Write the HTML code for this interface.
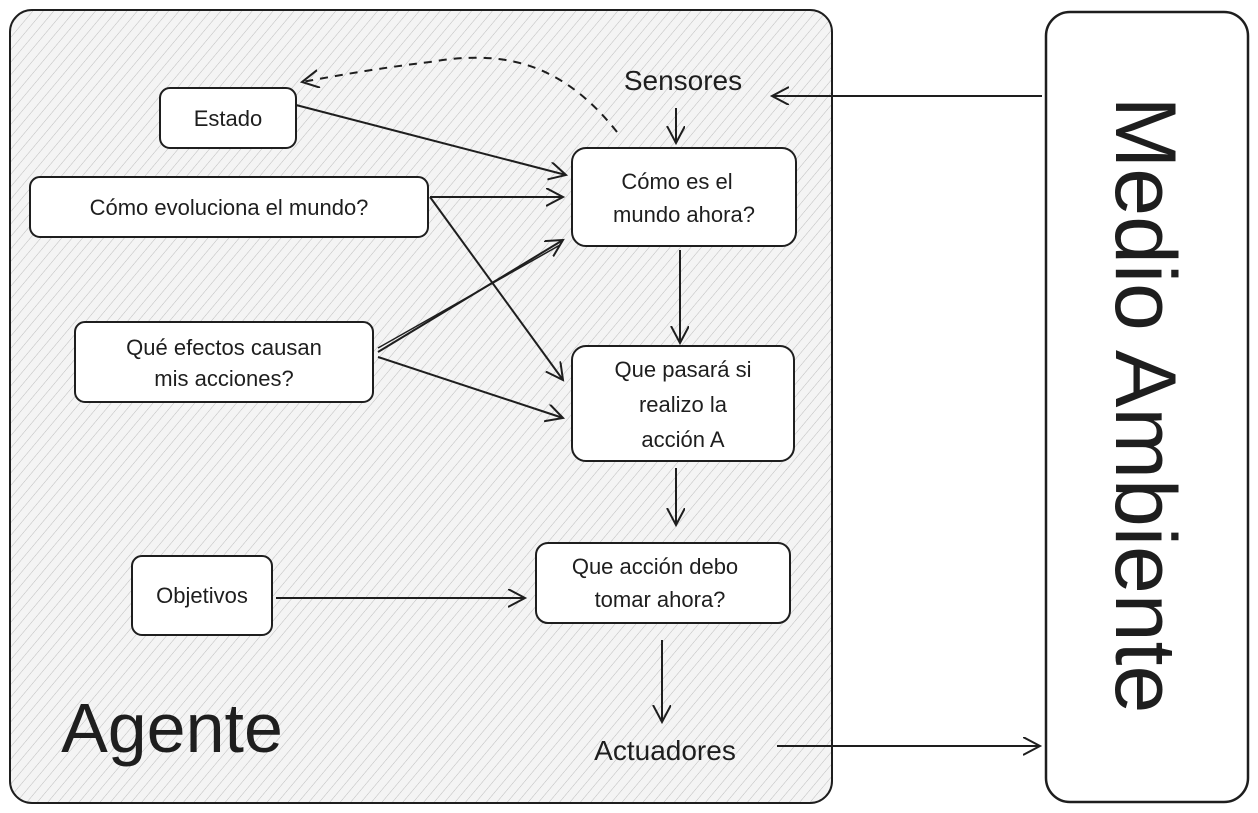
<!DOCTYPE html>
<html><head><meta charset="utf-8"><style>
html,body{margin:0;padding:0;background:#fff;}
svg{display:block;}
text{font-family:"Liberation Sans",sans-serif;fill:#1e1e1e;}
</style></head><body>
<svg width="1258" height="813" viewBox="0 0 1258 813" xmlns="http://www.w3.org/2000/svg">
<defs>
<pattern id="h" width="8" height="8" patternUnits="userSpaceOnUse" patternTransform="rotate(40)">
<rect width="8" height="8" fill="#f4f4f4"/>
<line x1="0" y1="0" x2="0" y2="8" stroke="#bdbdbd" stroke-width="1"/>
</pattern>
<marker id="a" markerWidth="20" markerHeight="20" refX="17" refY="9" orient="auto" markerUnits="userSpaceOnUse">
<path d="M0,0 L17,9 L0,18" fill="none" stroke="#1e1e1e" stroke-width="2"/>
</marker>
</defs>
<rect x="10" y="10" width="822" height="793" rx="22" fill="url(#h)" stroke="#1e1e1e" stroke-width="2"/>
<rect x="1046" y="12" width="202" height="790" rx="24" fill="#fff" stroke="#1e1e1e" stroke-width="2.5"/>
<text transform="translate(1116,405) rotate(90)" font-size="86" text-anchor="middle">Medio  Ambiente</text>

<g fill="#fff" stroke="#1e1e1e" stroke-width="2">
<rect x="160" y="88" width="136" height="60" rx="10"/>
<rect x="30" y="177" width="398" height="60" rx="10"/>
<rect x="75" y="322" width="298" height="80" rx="10"/>
<rect x="572" y="148" width="224" height="98" rx="14"/>
<rect x="572" y="346" width="222" height="115" rx="14"/>
<rect x="536" y="543" width="254" height="80" rx="12"/>
<rect x="132" y="556" width="140" height="79" rx="10"/>
</g>
<g font-size="22" text-anchor="middle">
<text x="228" y="126">Estado</text>
<text x="229" y="215">Cómo evoluciona el mundo?</text>
<text x="224" y="355">Qué efectos causan</text>
<text x="224" y="386">mis acciones?</text>
<text x="677" y="189">Cómo es el</text>
<text x="684" y="222">mundo ahora?</text>
<text x="683" y="377">Que pasará si</text>
<text x="683" y="412">realizo la</text>
<text x="683" y="447">acción A</text>
<text x="655" y="574">Que acción debo</text>
<text x="660" y="607">tomar ahora?</text>
<text x="202" y="603">Objetivos</text>
<text x="683" y="90" font-size="28">Sensores</text>
<text x="665" y="760" font-size="28">Actuadores</text>
</g>
<text x="172" y="752" font-size="70" text-anchor="middle">Agente</text>

<g stroke="#1e1e1e" stroke-width="2" fill="none" marker-end="url(#a)">
<line x1="296" y1="105" x2="566" y2="175"/>
<line x1="430" y1="197" x2="563" y2="197"/>
<line x1="430" y1="197" x2="563" y2="380"/>
<line x1="378" y1="352" x2="563" y2="240"/>
<line x1="378" y1="357" x2="563" y2="418"/>
<line x1="676" y1="108" x2="676" y2="143"/>
<line x1="680" y1="250" x2="680" y2="343"/>
<line x1="676" y1="468" x2="676" y2="525"/>
<line x1="276" y1="598" x2="525" y2="598"/>
<line x1="662" y1="640" x2="662" y2="722"/>
<line x1="777" y1="746" x2="1040" y2="746"/>
<line x1="1042" y1="96" x2="772" y2="96"/>
<path d="M617,132 C560,60 500,50 430,62 C380,68 340,75 302,82" stroke-dasharray="8,7"/>
</g>
<line x1="378" y1="348" x2="560" y2="245" stroke="#1e1e1e" stroke-width="1.5"/>
</svg>
</body></html>
